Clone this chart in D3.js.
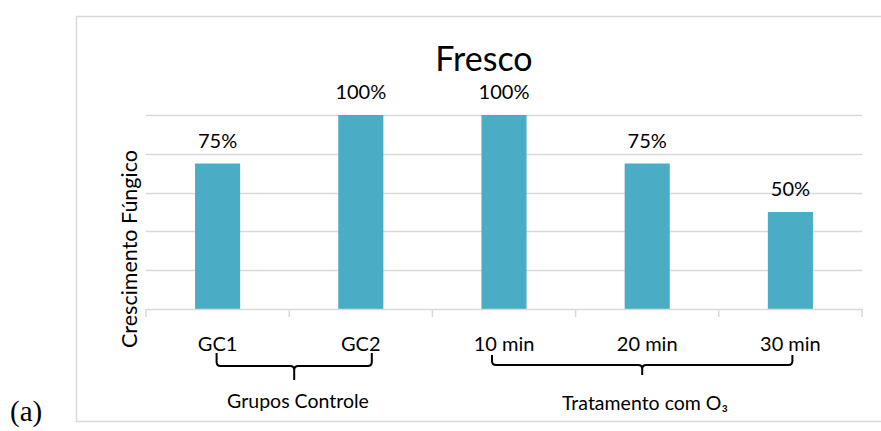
<!DOCTYPE html>
<html>
<head>
<meta charset="utf-8">
<script src="https://cdn.jsdelivr.net/npm/d3@7"></script>
<style>
  html, body { margin: 0; padding: 0; background: #fff; }
  svg { display: block; }
  text { font-family: Lato, "Open Sans", sans-serif; fill: #000; }
</style>
</head>
<body>
<svg id="chart" width="881" height="431"></svg>
<script>
// ---- data ----
const categories = ["GC1", "GC2", "10 min", "20 min", "30 min"];
const values = [0.75, 1.00, 1.00, 0.75, 0.50];
const valueLabels = ["75%", "100%", "100%", "75%", "50%"];
const gridTicks = [0, 0.2, 0.4, 0.6, 0.8, 1.0];
const groupNames = ["Grupos Controle", "Tratamento com O₃"];
const groupFrom = ["GC1", "10 min"];
const groupTo = ["GC2", "30 min"];
const titleText = "Fresco";
const yTitle = "Crescimento Fúngico";
const panelTag = "(a)";

// ---- layout ----
const svg = d3.select("#chart");
const plot = { left: 146, right: 862, top: 115, bottom: 309 };

const x = d3.scaleBand().domain(categories).range([plot.left, plot.right]).padding(0);
const y = d3.scaleLinear().domain([0, 1]).range([plot.bottom, plot.top]);
const barW = x.bandwidth() * 0.315;
const teal = "#4bacc6";
const grid = "#d9d9d9";

// outer frame
svg.append("rect")
  .attr("x", 76.5).attr("y", 16.5)
  .attr("width", 830).attr("height", 405)
  .attr("fill", "none").attr("stroke", grid).attr("stroke-width", 1.5);

// gridlines
svg.append("g").selectAll("line").data(gridTicks.filter(d => d > 0)).join("line")
  .attr("x1", plot.left).attr("x2", plot.right)
  .attr("y1", d => Math.round(y(d)) + 0.5).attr("y2", d => Math.round(y(d)) + 0.5)
  .attr("stroke", grid).attr("stroke-width", 1.5);

// bars
svg.append("g").selectAll("rect").data(categories).join("rect")
  .attr("x", (d) => x(d) + x.bandwidth() / 2 - barW / 2)
  .attr("width", barW)
  .attr("y", (d, i) => y(values[i]))
  .attr("height", (d, i) => y(0) - y(values[i]))
  .attr("fill", teal);

// x axis
const xAxis = d3.axisBottom(x).tickSize(0).tickFormat("");
const ax = svg.append("g").attr("transform", `translate(0,${plot.bottom})`).call(xAxis);
ax.select(".domain").attr("stroke", grid).attr("stroke-width", 1.5);
// category boundary ticks
const bounds = categories.map(c => x(c)).concat([plot.right]);
ax.selectAll(".bound").data(bounds).join("line").attr("class", "bound")
  .attr("x1", d => d).attr("x2", d => d).attr("y1", 0).attr("y2", 8)
  .attr("stroke", grid).attr("stroke-width", 1.5);

// category labels
svg.append("g").selectAll("text").data(categories).join("text")
  .attr("x", d => x(d) + x.bandwidth() / 2)
  .attr("y", 350.5)
  .attr("text-anchor", "middle")
  .attr("font-size", 20)
  .text(d => d);

// value labels
svg.append("g").selectAll("text").data(categories).join("text")
  .attr("x", d => x(d) + x.bandwidth() / 2)
  .attr("y", (d, i) => y(values[i]) - 16)
  .attr("text-anchor", "middle")
  .attr("font-size", 20)
  .text((d, i) => valueLabels[i]);

// title
svg.append("text").attr("x", 484).attr("y", 71)
  .attr("text-anchor", "middle").attr("font-size", 34).text(titleText);

// y title
svg.append("text")
  .attr("transform", `translate(137,249) rotate(-90)`)
  .attr("text-anchor", "middle").attr("font-size", 21.5).text(yTitle);

// group braces
const braceOffsets = [[-1, 11], [-12, 2]];
const braceTop = [353, 355];
const braceMid = [366, 365];
const braceTip = [380, 375];
const r = 4;
groupNames.forEach((g, i) => {
  const x1 = x(groupFrom[i]) + x.bandwidth() / 2 + braceOffsets[i][0];
  const x2 = x(groupTo[i]) + x.bandwidth() / 2 + braceOffsets[i][1];
  const tx = (x1 + x2) / 2;
  const t = braceTop[i], m = braceMid[i], tip = braceTip[i];
  const p = d3.path();
  p.moveTo(x1, t); p.lineTo(x1, m - r); p.quadraticCurveTo(x1, m, x1 + r, m);
  p.lineTo(tx - r, m); p.quadraticCurveTo(tx, m, tx, m + r); p.lineTo(tx, tip);
  p.moveTo(tx, m + r); p.quadraticCurveTo(tx, m, tx + r, m);
  p.lineTo(x2 - r, m); p.quadraticCurveTo(x2, m, x2, m - r); p.lineTo(x2, t);
  svg.append("path").attr("d", p.toString())
    .attr("fill", "none").attr("stroke", "#000").attr("stroke-width", 2);
});

// group labels
const groupLabelX = [298, 645];
const groupLabelY = [408, 410];
groupNames.forEach((g, i) => {
  svg.append("text").attr("x", groupLabelX[i]).attr("y", groupLabelY[i])
    .attr("text-anchor", "middle").attr("font-size", 19.5).text(g);
});

// panel tag
svg.append("text").attr("x", 10).attr("y", 421)
  .style("font-family", "'Liberation Serif', 'Times New Roman', serif")
  .attr("font-size", 29).text(panelTag);
</script>
</body>
</html>
